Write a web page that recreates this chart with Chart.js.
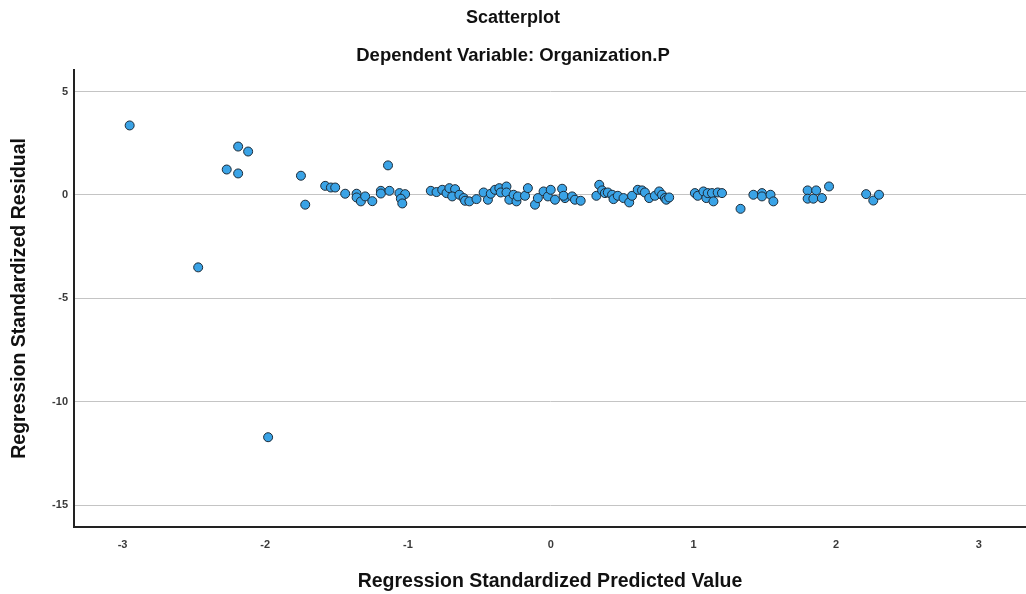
<!DOCTYPE html>
<html>
<head>
<meta charset="utf-8">
<script src="https://cdn.jsdelivr.net/npm/chart.js@4/dist/chart.umd.min.js"></script>
<style>
  html, body { margin: 0; padding: 0; background: #fff; }
  #wrap { width: 1026px; height: 594px; }
</style>
</head>
<body>
<div id="wrap"><canvas id="scatter"></canvas></div>
<script>
// Regression Standardized Predicted Value (x) / Standardized Residual (y)
const predicted = [
  -2.95, -2.47, -2.19, -2.12, -2.27, -2.19, -1.98,
  -1.75, -1.72, -1.58, -1.54, -1.51, -1.44, -1.36, -1.36, -1.33, -1.30, -1.25,
  -1.19, -1.19, -1.13, -1.14, -1.06, -1.02, -1.05, -1.04,
  -0.84, -0.80, -0.76, -0.73, -0.71, -0.67, -0.69, -0.64, -0.61, -0.60, -0.57,
  -0.52, -0.47, -0.44, -0.42, -0.39, -0.36, -0.35, -0.31, -0.31, -0.29, -0.26,
  -0.24, -0.23, -0.18, -0.16, -0.11, -0.09, -0.05, -0.02, 0.00, 0.03, 0.08, 0.10,
  0.09, 0.15, 0.17, 0.21,
  0.32, 0.34, 0.36, 0.38, 0.40, 0.43, 0.44, 0.47, 0.51, 0.55, 0.57, 0.61, 0.64,
  0.66, 0.69, 0.73, 0.76, 0.78, 0.80, 0.81, 0.83,
  1.01, 1.03, 1.07, 1.09, 1.10, 1.13, 1.14, 1.17, 1.20, 1.33,
  1.42, 1.48, 1.48, 1.54, 1.56,
  1.80, 1.80, 1.86, 1.84, 1.90, 1.95,
  2.21, 2.26, 2.30
];
const residual = [
  3.36, -3.50, 2.34, 2.10, 1.23, 1.04, -11.71,
  0.93, -0.47, 0.44, 0.36, 0.36, 0.06, 0.06, -0.12, -0.31, -0.07, -0.30,
  0.20, 0.07, 0.20, 1.43, 0.09, 0.04, -0.18, -0.41,
  0.20, 0.14, 0.25, 0.09, 0.33, 0.28, -0.07, 0.01, -0.15, -0.28, -0.31,
  -0.20, 0.12, -0.23, 0.06, 0.25, 0.33, 0.12, 0.41, 0.12, -0.23, 0.01,
  -0.31, -0.07, -0.04, 0.33, -0.47, -0.15, 0.17, -0.07, 0.25, -0.23, 0.30, -0.15,
  -0.04, -0.07, -0.23, -0.28,
  -0.04, 0.49, 0.22, 0.09, 0.12, 0.01, -0.20, -0.04, -0.15, -0.36, -0.04, 0.25, 0.22,
  0.12, -0.15, -0.04, 0.17, 0.01, -0.15, -0.23, -0.12,
  0.09, -0.04, 0.17, -0.15, 0.09, 0.09, -0.31, 0.12, 0.09, -0.67,
  0.01, 0.09, -0.07, 0.01, -0.31,
  0.22, -0.18, 0.22, -0.18, -0.15, 0.41,
  0.04, -0.27, 0.01
];
const xTicks = [-3, -2, -1, 0, 1, 2, 3];
const yTicks = [-15, -10, -5, 0, 5];

const points = predicted.map((x, i) => ({ x: x, y: residual[i] }));
const fontFamily = "'Liberation Sans', Arial, sans-serif";

new Chart(document.getElementById('scatter'), {
  type: 'scatter',
  data: {
    datasets: [{
      data: points,
      pointRadius: 4.5,
      pointHoverRadius: 4.5,
      pointBackgroundColor: '#3aa3e6',
      pointBorderColor: '#1d2a36',
      pointBorderWidth: 1
    }]
  },
  options: {
    responsive: true,
    maintainAspectRatio: false,
    animation: false,
    layout: { padding: 0, autoPadding: false },
    plugins: {
      legend: { display: false },
      tooltip: { enabled: false },
      title: {
        display: true,
        text: 'Scatterplot',
        color: '#111',
        font: { family: fontFamily, size: 18, weight: 'bold' },
        padding: { top: 7, bottom: 16 }
      },
      subtitle: {
        display: true,
        text: 'Dependent Variable: Organization.P',
        color: '#111',
        font: { family: fontFamily, size: 18.5, weight: 'bold' },
        padding: { top: 0, bottom: 3 }
      }
    },
    scales: {
      x: {
        type: 'linear',
        min: -3.34,
        max: 3.33,
        afterBuildTicks: (scale) => { scale.ticks = xTicks.map(v => ({ value: v })); },
        afterFit: (scale) => { scale.height = 67; },
        grid: { display: false },
        border: { display: true, color: '#222', width: 2 },
        ticks: {
          color: '#3a3a3a',
          padding: 3,
          maxRotation: 0,
          font: { family: fontFamily, size: 11, weight: 'bold' }
        },
        title: {
          display: true,
          text: 'Regression Standardized Predicted Value',
          color: '#111',
          font: { family: fontFamily, size: 19.5, weight: 'bold' },
          padding: { top: 0, bottom: 1 }
        }
      },
      y: {
        type: 'linear',
        min: -16.05,
        max: 6.05,
        afterBuildTicks: (scale) => { scale.ticks = yTicks.map(v => ({ value: v })); },
        afterFit: (scale) => { scale.width = 74; },
        grid: { color: '#c4c4c4', lineWidth: 1, drawTicks: false },
        border: { display: true, color: '#222', width: 2 },
        ticks: {
          color: '#3a3a3a',
          padding: 6,
          font: { family: fontFamily, size: 11, weight: 'bold' }
        },
        title: {
          display: true,
          text: 'Regression Standardized Residual',
          color: '#111',
          font: { family: fontFamily, size: 19.5, weight: 'bold' },
          padding: { top: 8, bottom: 0 }
        }
      }
    }
  }
});
</script>
</body>
</html>
